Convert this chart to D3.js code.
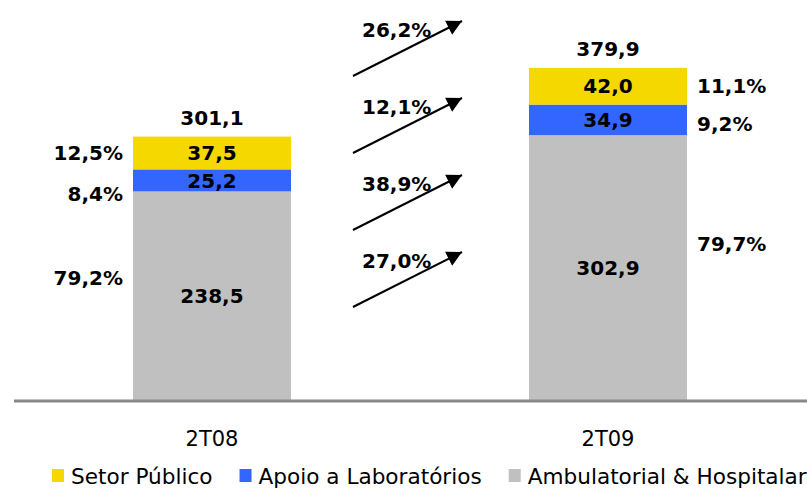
<!DOCTYPE html>
<html>
<head>
<meta charset="utf-8">
<script src="https://cdn.jsdelivr.net/npm/d3@7"></script>
<style>
  body { margin: 0; background: #fff; }
  svg { font-family: "DejaVu Sans", sans-serif; }
</style>
</head>
<body>
<svg id="chart" width="807" height="489"></svg>
<script>
var periods = ["2T08", "2T09"];
var series = ["Ambulatorial & Hospitalar", "Apoio a Laboratórios", "Setor Público"];
var valuesAmb = [238.5, 302.9];
var valuesApoio = [25.2, 34.9];
var valuesSetor = [37.5, 42.0];
var totals = [301.1, 379.9];
var pctLabels = [["79,2%", "8,4%", "12,5%"], ["79,7%", "9,2%", "11,1%"]];
var growthLabels = ["26,2%", "12,1%", "38,9%", "27,0%"];
var legendOrder = ["Setor Público", "Apoio a Laboratórios", "Ambulatorial & Hospitalar"];

var colors = {
    "Setor Público": "#f5d800",
    "Apoio a Laboratórios": "#3366ff",
    "Ambulatorial & Hospitalar": "#c0c0c0"
};

function fmt(v){
    return v.toFixed(1).replace(".", ",");
}

var svg = d3.select("#chart");
var baseY = 400;

var x = d3.scaleBand().domain(periods).range([14, 806]).paddingInner(0.601).paddingOuter(0.3005);
var y = d3.scaleLinear().domain([0, 457.4]).range([baseY, 0]);

// linhas para o stack
var rows = periods.map(function(p, i){
    var r = {period: p};
    r[series[0]] = valuesAmb[i];
    r[series[1]] = valuesApoio[i];
    r[series[2]] = valuesSetor[i];
    return r;
});
var stacked = d3.stack().keys(series)(rows);

var layers = svg.selectAll("g.layer").data(stacked).enter()
    .append("g").attr("class", "layer")
    .attr("fill", function(d){ return colors[d.key]; });

layers.selectAll("rect").data(function(d){ return d; }).enter()
    .append("rect")
    .attr("x", function(d){ return x(d.data.period); })
    .attr("width", x.bandwidth())
    .attr("y", function(d){ return y(d[1]); })
    .attr("height", function(d){ return y(d[0]) - y(d[1]); });

// valores dentro dos segmentos
layers.selectAll("text").data(function(d){ return d; }).enter()
    .append("text")
    .attr("x", function(d){ return x(d.data.period) + x.bandwidth()/2; })
    .attr("y", function(d){ return (y(d[0]) + y(d[1]))/2; })
    .attr("dy", "0.36em")
    .attr("text-anchor", "middle")
    .attr("font-weight", "bold")
    .attr("font-size", 20)
    .attr("fill", "#000")
    .text(function(d){ return fmt(d[1] - d[0]); });

// totais
svg.selectAll("text.total").data(totals).enter()
    .append("text").attr("class", "total")
    .attr("x", function(d, i){ return x(periods[i]) + x.bandwidth()/2; })
    .attr("y", function(d){ return y(d) - 12; })
    .attr("text-anchor", "middle")
    .attr("font-weight", "bold")
    .attr("font-size", 20)
    .text(fmt);

// participação: à esquerda da 1a barra, à direita da 2a
var nudge = [[-18, 13, 0], [-24, 3.5, 0]];
pctLabels.forEach(function(lbls, i){
    var s = stacked.map(function(layer){ return layer[i]; });
    lbls.forEach(function(t, k){
        var left = i === 0;
        svg.append("text")
            .attr("x", left ? x(periods[i]) - 10 : x(periods[i]) + x.bandwidth() + 10)
            .attr("y", (y(s[k][0]) + y(s[k][1]))/2 + nudge[i][k])
            .attr("dy", "0.36em")
            .attr("text-anchor", left ? "end" : "start")
            .attr("font-weight", "bold")
            .attr("font-size", 20)
            .text(t);
    });
});

// setas de crescimento
svg.append("defs").append("marker")
    .attr("id", "head")
    .attr("viewBox", "0 -8 16 16")
    .attr("refX", 15).attr("refY", 0)
    .attr("markerWidth", 16).attr("markerHeight", 16)
    .attr("markerUnits", "userSpaceOnUse")
    .attr("orient", "auto")
    .append("path").attr("d", "M0,-7.8L15,0L0,7.8Z").attr("fill", "#000");

var arrowY = d3.scalePoint().domain(growthLabels).range([76, 307]);
var ax0 = 353, adx = 109, ady = -55;
growthLabels.forEach(function(t){
    var y0 = arrowY(t);
    svg.append("line")
        .attr("x1", ax0).attr("y1", y0)
        .attr("x2", ax0 + adx).attr("y2", y0 + ady)
        .attr("stroke", "#000").attr("stroke-width", 2)
        .attr("marker-end", "url(#head)");
    svg.append("text")
        .attr("x", ax0 + 9).attr("y", y0 - 39)
        .attr("font-weight", "bold")
        .attr("font-size", 20)
        .text(t);
});

// eixo
svg.append("line")
    .attr("x1", 14).attr("x2", 807)
    .attr("y1", baseY + 1).attr("y2", baseY + 1)
    .attr("stroke", "#888").attr("stroke-width", 3);

// categorias
svg.selectAll("text.cat").data(periods).enter()
    .append("text").attr("class", "cat")
    .attr("x", function(d){ return x(d) + x.bandwidth()/2; })
    .attr("y", 446)
    .attr("text-anchor", "middle")
    .attr("font-size", 21)
    .text(function(d){ return d; });

// legenda
var lx = 52;
legendOrder.forEach(function(name){
    svg.append("rect")
        .attr("x", lx).attr("y", 469)
        .attr("width", 12).attr("height", 13)
        .attr("fill", colors[name]);
    var t = svg.append("text")
        .attr("x", lx + 19).attr("y", 484)
        .attr("font-size", 21.6)
        .text(name);
    lx += 19 + t.node().getComputedTextLength() + 27;
});
</script>
</body>
</html>
